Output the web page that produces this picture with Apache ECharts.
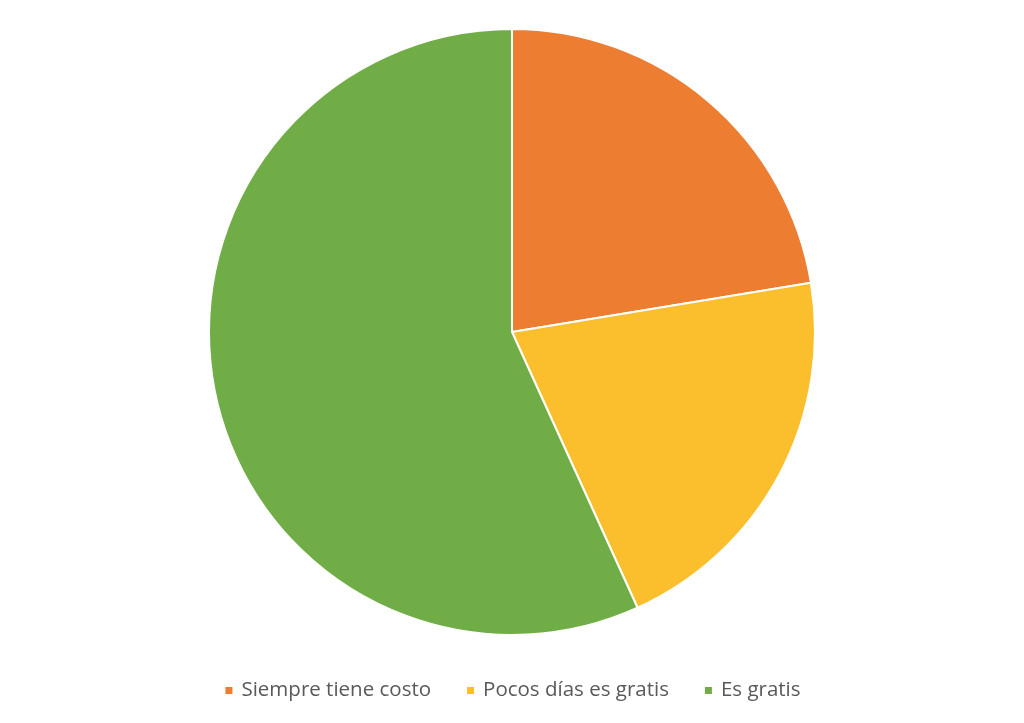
<!DOCTYPE html>
<html><head><meta charset="utf-8">
<script src="https://cdn.jsdelivr.net/npm/echarts@6/dist/echarts.min.js"></script>
<style>html,body{margin:0;padding:0;background:#fff}#c{width:1024px;height:723px}</style>
</head><body><div id="c"></div>
<script>
const categories = ['Siempre tiene costo', 'Pocos días es gratis', 'Es gratis'];
const values = [28, 26, 71];
const colors = ['#ED7D31', '#FBBF2E', '#70AD47'];

const chart = echarts.init(document.getElementById('c'), null, {renderer: 'canvas'});
chart.setOption({
  animation: false,
  color: colors,
  legend: {
    top: 675,
    left: 'center',
    itemWidth: 9,
    itemHeight: 9,
    itemGap: 34,
    icon: 'rect',
    textStyle: {color: '#595959', fontSize: 20.5, fontFamily: 'Open Sans', padding: [0, 0, 0, 3]},
    data: categories
  },
  series: [{
    type: 'pie',
    center: [512, 332],
    radius: 303,
    startAngle: 90,
    clockwise: true,
    label: {show: false},
    labelLine: {show: false},
    itemStyle: {borderColor: '#fff', borderWidth: 2},
    data: categories.map((n, i) => ({name: n, value: values[i]}))
  }]
});
</script></body></html>
